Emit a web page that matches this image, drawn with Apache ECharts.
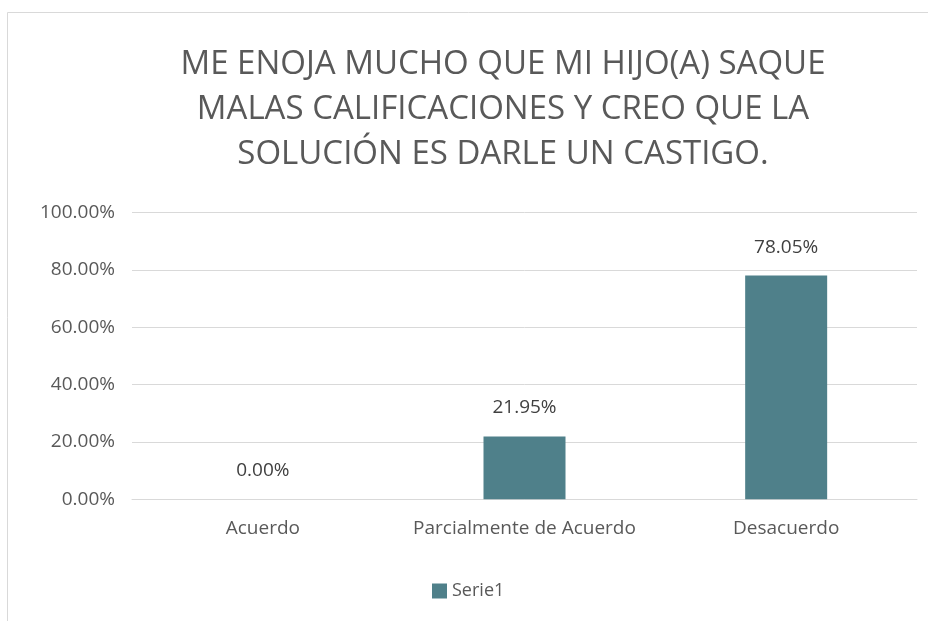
<!DOCTYPE html>
<html><head><meta charset="utf-8">
<script src="https://cdn.jsdelivr.net/npm/echarts@6/dist/echarts.min.js"></script>
<style>html,body{margin:0;padding:0;background:#fff}#c{width:928px;height:621px}</style>
</head><body><div id="c"></div>
<script>
var titleText = 'ME ENOJA MUCHO QUE MI HIJO(A) SAQUE\nMALAS CALIFICACIONES Y CREO QUE LA\nSOLUCIÓN ES DARLE UN CASTIGO.';
var categories = ['Acuerdo', 'Parcialmente de Acuerdo', 'Desacuerdo'];
var seriesName = 'Serie1';
var values = [0, 21.95, 78.05];
var yMin = 0, yMax = 100, yStep = 20;

var FONT = '"Open Sans", sans-serif';
var chart = echarts.init(document.getElementById('c'), null, {renderer: 'canvas'});
chart.setOption({
  animation: false,
  backgroundColor: '#fff',
  graphic: [{type: 'rect', shape: {x: 7.5, y: 12.5, width: 1000, height: 700}, style: {fill: 'none', stroke: '#d9d9d9', lineWidth: 1}, silent: true}],
  title: {
    text: titleText, left: 498, textAlign: 'center', top: 37,
    textStyle: {fontFamily: FONT, fontSize: 33, fontWeight: 'normal', color: '#595959', lineHeight: 45}
  },
  legend: {
    data: [seriesName], top: 577, left: 427, itemWidth: 15, itemHeight: 15, itemGap: 10,
    icon: 'rect',
    textStyle: {fontFamily: FONT, fontSize: 18, color: '#595959'}
  },
  grid: {left: 132, right: 11, top: 212.7, bottom: 121.7, containLabel: false},
  xAxis: {
    type: 'category', data: categories,
    axisLine: {show: true, lineStyle: {color: '#d9d9d9'}},
    axisTick: {show: false},
    axisLabel: {fontFamily: FONT, fontSize: 19, color: '#595959', margin: 20, interval: 0, hideOverlap: false}
  },
  yAxis: {
    type: 'value', min: yMin, max: yMax, interval: yStep,
    axisLine: {show: false}, axisTick: {show: false},
    splitLine: {lineStyle: {color: '#d9d9d9', width: 1}},
    axisLabel: {fontFamily: FONT, fontSize: 19, color: '#595959', margin: 17,
      formatter: function (v) { return v.toFixed(2) + '%'; }}
  },
  series: [{
    name: seriesName, type: 'bar', data: values, barWidth: 82,
    itemStyle: {color: '#4f808a'},
    label: {show: true, position: 'top', distance: 19, fontFamily: FONT, fontSize: 19, color: '#404040',
      formatter: function (p) { return p.value.toFixed(2) + '%'; }}
  }]
});
</script></body></html>
